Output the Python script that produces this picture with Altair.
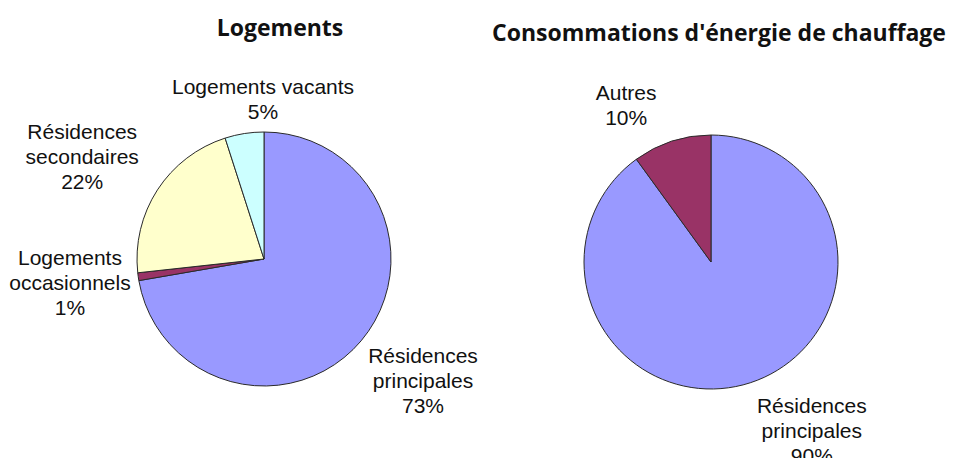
import altair as alt
import pandas as pd

# ---- data ----
LEFT_TITLE = "Logements"
LEFT_CATEGORIES = ["Résidences principales", "Logements occasionnels",
                   "Résidences secondaires", "Logements vacants"]
LEFT_LABELS = ["Résidences\nprincipales", "Logements\noccasionnels",
               "Résidences\nsecondaires", "Logements vacants"]
LEFT_VALUES = [73, 1, 22, 5]
LEFT_COLORS = ["#9999FF", "#993366", "#FFFFCC", "#CCFFFF"]

RIGHT_TITLE = "Consommations d'énergie de chauffage"
RIGHT_CATEGORIES = ["Résidences principales", "Autres"]
RIGHT_LABELS = ["Résidences\nprincipales", "Autres"]
RIGHT_VALUES = [90, 10]
RIGHT_COLORS = ["#9999FF", "#993366"]

# ---- layout (label nudges from their slice anchor, in px) ----
LEFT_NUDGE = {"Résidences principales": (6, -6), "Logements occasionnels": (4, -3),
              "Résidences secondaires": (-14, 8), "Logements vacants": (30, 39)}
RIGHT_NUDGE = {"Résidences principales": (39, -20), "Autres": (-23, 35)}

FONT = "Liberation Sans"
TITLE_FONT = "Open Sans"
FONT_SIZE = 21
LINE_HEIGHT = 25

COLOR_DOMAIN = ["Résidences principales", "Logements occasionnels",
                "Résidences secondaires", "Logements vacants", "Autres"]
COLOR_RANGE = ["#9999FF", "#993366", "#FFFFCC", "#CCFFFF", "#993366"]

THETA_SCALE = alt.Scale(domain=[0, 1])


def pie_layers(title, cats, labels, values, nudges, cx, cy, tx, ty):
    df = pd.DataFrame({"cat": cats, "label": labels, "value": values,
                       "idx": list(range(len(cats)))})
    base = alt.Chart(df).transform_joinaggregate(
        total="sum(value)"
    ).transform_window(
        cum="sum(value)", sort=[alt.SortField("idx")]
    ).transform_calculate(
        t0="(datum.cum - datum.value) / datum.total",
        t1="datum.cum / datum.total",
        mid="(datum.cum - datum.value / 2) / datum.total",
        txt="datum.label + '\\n' + datum.value + '%'",
    )
    arc = base.mark_arc(stroke="#2a2a2a", strokeWidth=1, radius=127).encode(
        theta=alt.Theta("t0:Q", scale=THETA_SCALE),
        theta2="t1:Q",
        color=alt.Color("cat:N", scale=alt.Scale(domain=COLOR_DOMAIN, range=COLOR_RANGE),
                        legend=None),
        x=alt.value(cx), y=alt.value(cy),
    )
    layers = [arc]
    for c, lab in zip(cats, labels):
        dx, dy = nudges[c]
        n_lines = lab.count("\n") + 2
        dy = dy - (n_lines - 1) * LINE_HEIGHT / 2
        layers.append(
            base.transform_filter(alt.datum.cat == c).mark_text(
                radius=200, dx=dx, dy=dy, font=FONT, fontSize=FONT_SIZE, lineBreak="\n",
                lineHeight=LINE_HEIGHT, align="center", baseline="middle", color="#111"
            ).encode(theta=alt.Theta("mid:Q", scale=THETA_SCALE), text="txt:N",
                     x=alt.value(cx), y=alt.value(cy))
        )
    tdf = pd.DataFrame({"t": [title]})
    layers.append(
        alt.Chart(tdf).mark_text(font=TITLE_FONT, fontSize=23, fontWeight="bold",
                                 align="center", baseline="alphabetic", color="#111").encode(
            text="t:N", x=alt.value(tx), y=alt.value(ty))
    )
    return layers


layers = pie_layers(LEFT_TITLE, LEFT_CATEGORIES, LEFT_LABELS, LEFT_VALUES,
                    LEFT_NUDGE, 256, 251, 272, 28)
layers += pie_layers(RIGHT_TITLE, RIGHT_CATEGORIES, RIGHT_LABELS, RIGHT_VALUES,
                     RIGHT_NUDGE, 703, 254, 711, 33)

chart = alt.layer(*layers).properties(
    width=939, height=450, padding=0, background="white",
    autosize=alt.AutoSizeParams(type="none")
).configure_view(stroke="transparent", strokeWidth=0)

chart.save("out.html", embed_options={"renderer": "svg", "actions": False})
